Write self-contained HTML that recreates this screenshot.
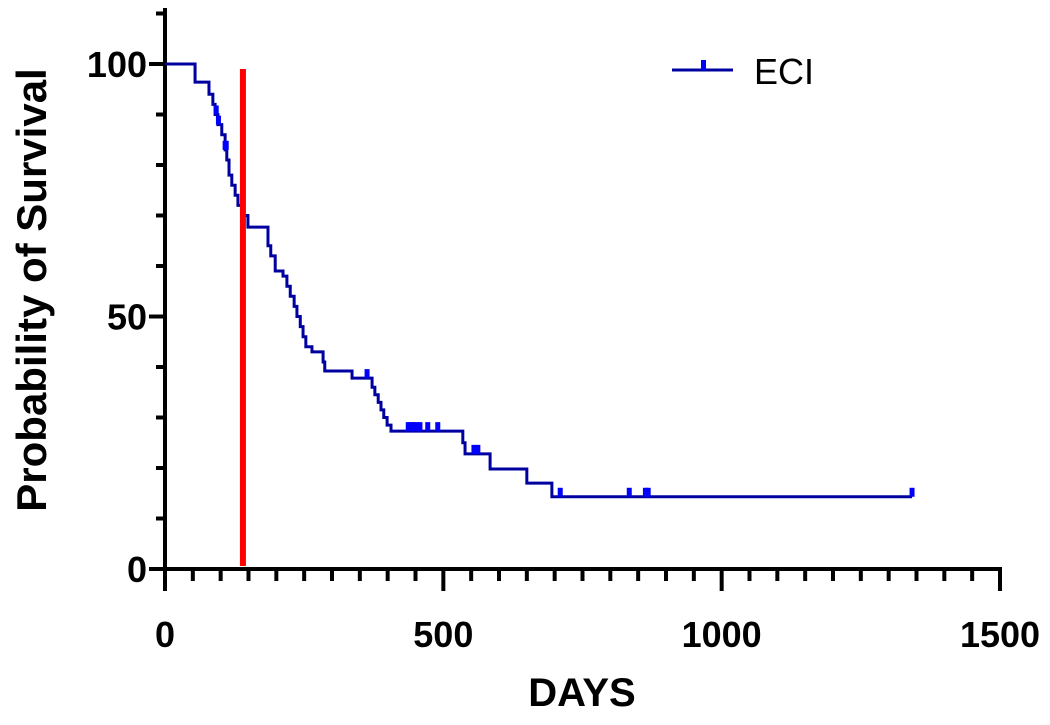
<!DOCTYPE html>
<html><head><meta charset="utf-8"><style>
body{margin:0;background:#fff;}
svg text{font-family:"Liberation Sans",Arial,sans-serif;font-weight:bold;}
</style></head><body>
<svg id="chart" width="1050" height="720" viewBox="0 0 1050 720">
<g id="axes"></g>
<g id="plot"></g>
<text x="582" y="706" font-size="40" text-anchor="middle" fill="#000">DAYS</text>
<text transform="translate(46,290) rotate(-90)" font-size="42" text-anchor="middle" fill="#000">Probability of Survival</text>
<g>
<line x1="672" y1="70" x2="733" y2="70" stroke="#0000a0" stroke-width="3"/>
<rect x="701" y="60" width="5" height="10" fill="#0000ff"/>
<text x="754" y="84" font-size="36" style="font-weight:normal" fill="#000">ECI</text>
</g>
</svg>
<script>
const stepDays = [0,54,79,86,90,95,102,108,111,115,120,126,131,138,149,185,190,198,212,219,225,232,237,243,248,253,264,284,287,336,372,377,383,388,393,399,406,535,539,584,650,695];
const stepSurv = [100,96.4,94,92,90,88,86,83,81,78,76,74,72,70,67.7,64,62,59,58,56,54,52,50,48,46,44,43,41,39.2,37.8,36,34.5,33,31.5,30,28.5,27.3,25,22.8,19.8,17,14.3];
const endDay = 1342;
const censorDays = [92,96,108,110,363,437,442,447,452,458,472,490,555,562,710,834,863,868,1342];
const xTicks = [0,500,1000,1500];
const yTicks = [0,50,100];
const redLineDay = 140;

const NS="http://www.w3.org/2000/svg";
const X0=165,X1=1000,Y0=569,Y100=64;
const xs=d=>X0+d*(X1-X0)/1500;
const ys=v=>Y0-v*(Y0-Y100)/100;
const axes=document.getElementById('axes'), plot=document.getElementById('plot');
function mk(tag,attrs,parent){const e=document.createElementNS(NS,tag);for(const k in attrs)e.setAttribute(k,attrs[k]);parent.appendChild(e);return e;}

let l=mk('line',{x1:X0,y1:8,x2:X0,y2:Y0+2,stroke:'#000','stroke-width':4},axes);


l=mk('line',{x1:X0-2,y1:Y0,x2:X1+2,y2:Y0,stroke:'#000','stroke-width':4},axes);


for(let v=0;v<=110;v+=10){const maj=v%50===0;
 const t=mk('line',{x1:X0-(maj?16:9),y1:ys(v),x2:X0,y2:ys(v),stroke:'#000','stroke-width':4},axes);
 
 }
for(let d=0;d<=1500;d+=50){const maj=d%500===0;
 const t=mk('line',{x1:xs(d),y1:Y0,x2:xs(d),y2:Y0+(maj?22:12),stroke:'#000','stroke-width':4},axes);
 
 }
yTicks.forEach(v=>{const t=mk('text',{x:X0-18,y:ys(v)+13,'font-size':36,'text-anchor':'end',fill:'#000'},axes);t.textContent=v;
 
 });
xTicks.forEach(d=>{const t=mk('text',{x:xs(d),y:Y0+78,'font-size':36,'text-anchor':'middle',fill:'#000'},axes);t.textContent=d;
 
 });

let p='M'+xs(stepDays[0])+','+ys(stepSurv[0]);
for(let i=1;i<stepDays.length;i++){p+=' H'+xs(stepDays[i])+' V'+ys(stepSurv[i]);}
p+=' H'+xs(endDay);
const path=mk('path',{d:p,fill:'none',stroke:'#0000a0','stroke-width':3},plot);


function survAt(d){let s=stepSurv[0];for(let i=0;i<stepDays.length;i++){if(stepDays[i]<=d)s=stepSurv[i];}return s;}
censorDays.forEach(d=>{const r=mk('rect',{x:xs(d)-2.5,y:ys(survAt(d))-9,width:5,height:9,fill:'#0000ff'},plot);
 
 });
const red=mk('line',{x1:xs(redLineDay),y1:69,x2:xs(redLineDay),y2:566,stroke:'#ff0000','stroke-width':6},plot);


</script>
</body></html>
